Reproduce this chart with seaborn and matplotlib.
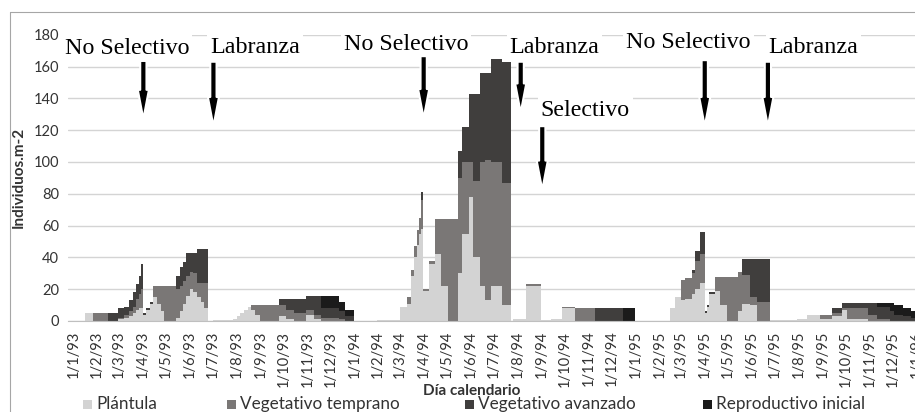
import numpy as np
import pandas as pd
import matplotlib
matplotlib.use("Agg")
import matplotlib.pyplot as plt
import seaborn as sns
from matplotlib.patches import Rectangle
from matplotlib.lines import Line2D

# inicio de cada paso (el valor se mantiene hasta la fecha siguiente)
fechas = [
    "1993-01-01", "1993-01-16", "1993-01-27", "1993-02-15", "1993-02-28", "1993-03-08",
    "1993-03-15", "1993-03-20", "1993-03-24", "1993-03-27", "1993-03-30", "1993-04-01",
    "1993-04-05", "1993-04-10", "1993-04-15", "1993-04-20", "1993-04-25", "1993-04-29",
    "1993-05-15", "1993-05-19", "1993-05-23", "1993-05-28", "1993-06-01", "1993-06-06",
    "1993-06-11", "1993-06-16", "1993-06-20", "1993-06-25", "1993-07-01", "1993-07-27",
    "1993-08-01", "1993-08-06", "1993-08-11", "1993-08-16", "1993-08-20", "1993-08-25",
    "1993-08-31", "1993-09-25", "1993-10-04", "1993-10-15", "1993-10-30", "1993-11-10",
    "1993-11-19", "1993-12-12", "1993-12-20", "1993-12-31", "1994-01-31", "1994-03-01",
    "1994-03-10", "1994-03-16", "1994-03-20", "1994-03-23", "1994-03-26", "1994-03-28",
    "1994-03-31", "1994-04-08", "1994-04-16", "1994-04-24", "1994-05-03", "1994-05-15",
    "1994-05-21", "1994-05-30", "1994-06-04", "1994-06-13", "1994-06-20", "1994-06-28",
    "1994-07-12", "1994-07-24", "1994-07-26", "1994-08-12", "1994-09-01", "1994-09-13",
    "1994-09-28", "1994-10-14", "1994-11-09", "1994-12-16", "1994-12-31", "1995-02-15",
    "1995-02-21", "1995-03-01", "1995-03-06", "1995-03-15", "1995-03-19", "1995-03-26",
    "1995-04-01", "1995-04-04", "1995-04-07", "1995-04-14", "1995-04-21", "1995-04-30",
    "1995-05-14", "1995-05-19", "1995-05-30", "1995-06-08", "1995-06-25", "1995-07-30",
    "1995-08-12", "1995-08-29", "1995-09-13", "1995-09-26", "1995-10-03", "1995-10-30",
    "1995-11-11", "1995-11-27", "1995-12-03", "1995-12-14", "1995-12-25",
]
fecha_fin = "1995-12-31"

plantula = [
    0, 5, 0, 0, 1, 2, 3, 5, 7, 8, 8, 4,
    7, 11, 15, 11, 6, 0, 2, 6, 11, 16, 20, 18,
    15, 12, 8, 0, 0.5, 1.5, 3, 5, 7, 9, 7, 4,
    0, 3, 1, 0, 4, 1, 0, 0, 0, 0, 0.4, 9,
    11, 28, 40, 48, 55, 58, 19, 36, 42, 22, 0, 30,
    55, 78, 40, 22, 13, 22, 10, 0, 1, 22, 0.5, 1.5,
    8, 0, 0, 0, 0, 8, 15, 13, 14, 17, 20, 24,
    5, 9, 17, 19, 10, 0, 6, 11, 10, 0, 0.5, 1.5,
    4, 1.5, 3, 7, 1, 0, 0, 0, 0, 0, 0,
]
veg_temprano = [
    0, 0, 5, 0, 1, 2, 3, 4, 7, 9, 12, 0,
    0, 0, 7, 11, 16, 22, 18, 16, 14, 12, 11, 12,
    9, 12, 16, 0, 0, 0, 0, 0, 0, 0, 3, 6,
    10, 7, 6, 5, 3, 3, 2, 1, 0, 0, 0, 0,
    4, 4, 7, 9, 10, 18, 1, 2, 22, 42, 64, 60,
    45, 22, 48, 78, 88, 78, 77, 0, 0, 1, 0, 0,
    0.5, 8, 0, 0, 0, 0, 0, 13, 13, 13, 18, 18,
    0, 0, 0, 8.5, 17.5, 27.5, 25, 18, 5, 12, 0, 0,
    0, 2.5, 2, 1, 7, 4, 1, 0, 0, 0, 0,
]
veg_avanzado = [
    0, 0, 0, 5, 6, 5, 7, 9, 9, 11, 16, 1,
    1, 1, 0, 0, 0, 0, 8, 12, 12, 15, 12, 13,
    21, 21, 21, 0, 0, 0, 0, 0, 0, 0, 0, 0,
    0, 4, 7, 9, 9, 12, 6, 5, 3, 0, 0, 0,
    0, 0, 0, 0, 0, 5, 0, 0, 0, 0, 0, 17,
    22, 43, 55, 56, 55, 65, 76, 0, 0, 0, 0, 0,
    0, 0, 8, 0, 0, 0, 0, 0, 0, 2, 6, 14,
    1, 1, 1, 0, 0, 0, 0, 10, 24, 27, 0, 0,
    0, 0, 3, 3.5, 3.5, 7.5, 8, 6, 4, 3, 2,
]
reproductivo = [
    0, 0, 0, 0, 0, 0, 0, 0, 0, 0, 0, 0,
    0, 0, 0, 0, 0, 0, 0, 0, 0, 0, 0, 0,
    0, 0, 0, 0, 0, 0, 0, 0, 0, 0, 0, 0,
    0, 0, 0, 0, 0, 0, 8, 6, 4, 0, 0, 0,
    0, 0, 0, 0, 0, 0, 0, 0, 0, 0, 0, 0,
    0, 0, 0, 0, 0, 0, 0, 0, 0, 0, 0, 0,
    0, 0, 0, 8, 0, 0, 0, 0, 0, 0, 0, 0,
    0, 0, 0, 0, 0, 0, 0, 0, 0, 0, 0, 0,
    0, 0, 0, 0, 0, 0, 2.5, 5.5, 6, 5, 4,
]

estados = ["Plántula", "Vegetativo temprano", "Vegetativo avanzado", "Reproductivo inicial"]
colores = ["#d3d3d3", "#7a7776", "#403e3d", "#1b1b1b"]

eventos = ["No Selectivo", "Labranza", "No Selectivo", "Labranza", "Selectivo",
           "No Selectivo", "Labranza"]
fechas_evento = ["1993-04-02", "1993-07-02", "1994-04-01", "1994-08-05", "1994-09-02",
                 "1995-04-01", "1995-06-22"]

origen = pd.Timestamp("1993-01-01")


def a_dias(f):
    return np.asarray((pd.to_datetime(f) - origen).days)


dias = a_dias(fechas)
n = len(dias)
df = pd.DataFrame({
    "dia": np.tile(dias, 4),
    "estado": np.repeat(estados, n),
    "valor": np.concatenate([plantula, veg_temprano, veg_avanzado, reproductivo]),
})
bordes = [int(d) for d in dias] + [int(a_dias(fecha_fin))]

sns.set_style("white")
plt.rcParams["font.family"] = ["Lato", "DejaVu Sans"]
texto_col = "#333333"

W, H = 915, 412
fig = plt.figure(figsize=(W / 100, H / 100), dpi=100)
ax = fig.add_axes([67.5 / W, (H - 321) / H, (925 - 67.5) / W, (321 - 34.7) / H])

# la ultima categoria de hue queda abajo en el apilado
sns.histplot(data=df, x="dia", weights="valor", hue="estado", hue_order=estados[::-1],
             palette=dict(zip(estados, colores)), multiple="stack", element="step",
             bins=bordes, alpha=1, linewidth=0, legend=False, ax=ax)

ax.set_xlim(-7.5, 1106)
ax.set_ylim(0, 180)
ax.set_xlabel("")
ax.set_ylabel("")
ax.set_axisbelow(True)
ax.yaxis.grid(True, color="#d4d4d4", lw=1)
for s in ["left", "top", "right"]:
    ax.spines[s].set_visible(False)
ax.spines["bottom"].set_color("#bfbfbf")

ax.set_yticks(range(0, 181, 20))
ax.tick_params(axis="y", length=0, pad=6, labelsize=10.5, labelcolor=texto_col)

meses = pd.date_range("1993-01-01", "1996-01-01", freq="MS")
ax.set_xticks(a_dias(meses))
ax.set_xticklabels([f"{m.day}/{m.month}/{m.year % 100:02d}" for m in meses], rotation=90)
ax.tick_params(axis="x", length=4, color="#bfbfbf", pad=3, labelsize=10.6, labelcolor=texto_col)

# manejos: texto + flecha
desplaz_texto = [-21, 54, -23, 44, 56, -21, 59]
y_texto = [171.5, 172, 174, 172, 132.5, 175, 172]
y_cola = [163.5, 163, 166.5, 163, 122.5, 164, 163]
y_punta = [127, 122.5, 127.5, 131, 82.5, 122.5, 122.5]
for ev, f, dx, yt, yc, yp in zip(eventos, a_dias(fechas_evento), desplaz_texto,
                                  y_texto, y_cola, y_punta):
    ax.text(f + dx, yt, ev, ha="center", va="center", fontsize=17.3,
            family=["Liberation Serif", "DejaVu Serif"], color="black", zorder=6,
            bbox=dict(fc="white", ec="none", pad=2))
    ax.annotate("", xy=(f, yp), xytext=(f, yc), annotation_clip=False, zorder=7,
                arrowprops=dict(width=4.5, headwidth=8, headlength=21, shrink=0,
                                facecolor="black", edgecolor="white", linewidth=1.5))

fig.text(18.5 / W, 1 - 177 / H, "Individuos.m-2", rotation=90, ha="center", va="center",
         fontsize=11, fontweight="bold", color=texto_col)
fig.text(472 / W, 1 - 391 / H, "Día calendario", ha="center", va="center",
         fontsize=11, fontweight="bold", color=texto_col)

# leyenda
x_leyenda = [83, 227, 465, 703]
for est, col, xl in zip(estados, colores, x_leyenda):
    fig.add_artist(Rectangle((xl / W, 1 - 408.5 / H), 9 / W, 9 / H,
                             transform=fig.transFigure, fc=col, ec="none"))
    fig.text((xl + 13) / W, 1 - 404 / H, est, ha="left", va="center",
             fontsize=12.3, color=texto_col)

# marco del grafico
borde = "#a6a6a6"
fig.add_artist(Line2D([9.5 / W, 9.5 / W], [0, 1 - 12 / H], transform=fig.transFigure,
                      color=borde, lw=0.8))
fig.add_artist(Line2D([9.5 / W, 1], [1 - 12 / H, 1 - 12 / H], transform=fig.transFigure,
                      color=borde, lw=0.8))

fig.savefig("out.png", dpi=100)
